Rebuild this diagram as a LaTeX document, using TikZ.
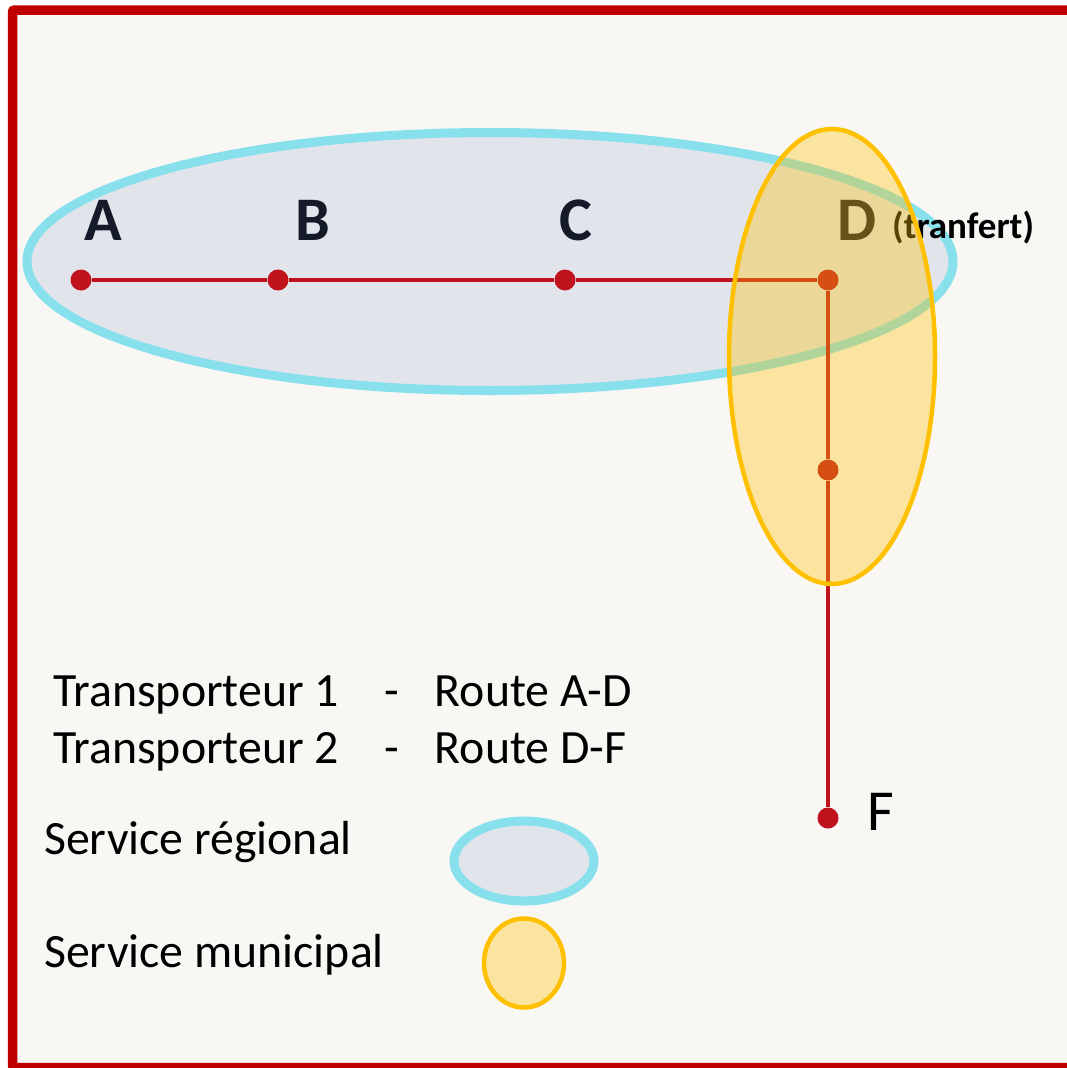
\documentclass[tikz,border=0pt]{standalone}
\usepackage{fontspec}
\setmainfont{Carlito}
\usetikzlibrary{shapes.geometric}
\definecolor{bgc}{HTML}{F8F7F4}
\definecolor{framec}{HTML}{C00000}
\definecolor{routec}{HTML}{C0121C}
\definecolor{regfill}{HTML}{E1E5EB}
\definecolor{regline}{HTML}{88E0EC}
\definecolor{munline}{HTML}{FFC000}
\definecolor{labc}{HTML}{141A28}
\begin{document}
\begin{tikzpicture}[x=1pt,y=-1pt,
  stop/.style={circle,fill=routec,inner sep=0pt,minimum size=21pt},
  route/.style={draw=routec,line width=3.5pt},
  biglab/.style={anchor=base west,inner sep=0pt,text=labc,font=\fontsize{62}{70}\selectfont\bfseries},
  txt/.style={anchor=base west,inner sep=0pt,text=black,font=\fontsize{47.8}{56}\selectfont},
  regional/.style={draw=regline,fill=regfill,line width=9pt},
  municipal/.style={draw=munline,fill=munline,fill opacity=0.345,line width=4.5pt}]
\useasboundingbox (0,0) rectangle (1067,1068);
\begin{scope}
\clip (0,0) rectangle (1067,1068);
\fill[white] (0,0) rectangle (1067,1068);
\draw[fill=bgc,draw=framec,line width=9.5pt,rounded corners=2pt] (12.5,10) rectangle (1072.5,1067.5);
\end{scope}
% regional ellipse
\draw[regional] (490,261.5) ellipse [x radius=463, y radius=129];
% stops
\node[stop] (a) at (81,280) {};
\node[stop] (b) at (278,280) {};
\node[stop] (c) at (565,280) {};
\node[stop] (d) at (828,280) {};
\node[stop] (e) at (828,470) {};
\node[stop] (f) at (828,818) {};
\draw[route] (a) -- (b) -- (c) -- (d) -- (e) -- (f);
% labels
\node[biglab] (la) at (84,240) {A};
\node[biglab] (lb) at (295,240) {B};
\node[biglab] (lc) at (559,240) {C};
\node[biglab] (ld) at (837,240) {D};
\node[anchor=base west,inner sep=0pt,text=black,font=\fontsize{37}{44}\selectfont\bfseries] (tr) at (892,238) {(tranfert)};
\node[anchor=base west,inner sep=0pt,text=black,font=\fontsize{58}{66}\selectfont] (lf) at (867,830) {F};
% municipal ellipse on top
\draw[municipal] (832,356.5) ellipse [x radius=103, y radius=227.5];
% legend
\node[txt] (t1) at (53,706) {Transporteur 1\hspace{0.95em}-\hspace{0.75em}Route A-D};
\node[txt] (t2) at (53,763) {Transporteur 2\hspace{0.95em}-\hspace{0.75em}Route D-F};
\node[txt] (s1) at (44,854) {Service régional};
\node[txt] (s2) at (44,967) {Service municipal};
\node[ellipse,regional,minimum width=140pt,minimum height=80pt,inner sep=0pt] (k1) at (524,861) {};
\node[ellipse,municipal,minimum width=80pt,minimum height=89pt,inner sep=0pt] (k2) at (524,963) {};
\end{tikzpicture}
\end{document}
